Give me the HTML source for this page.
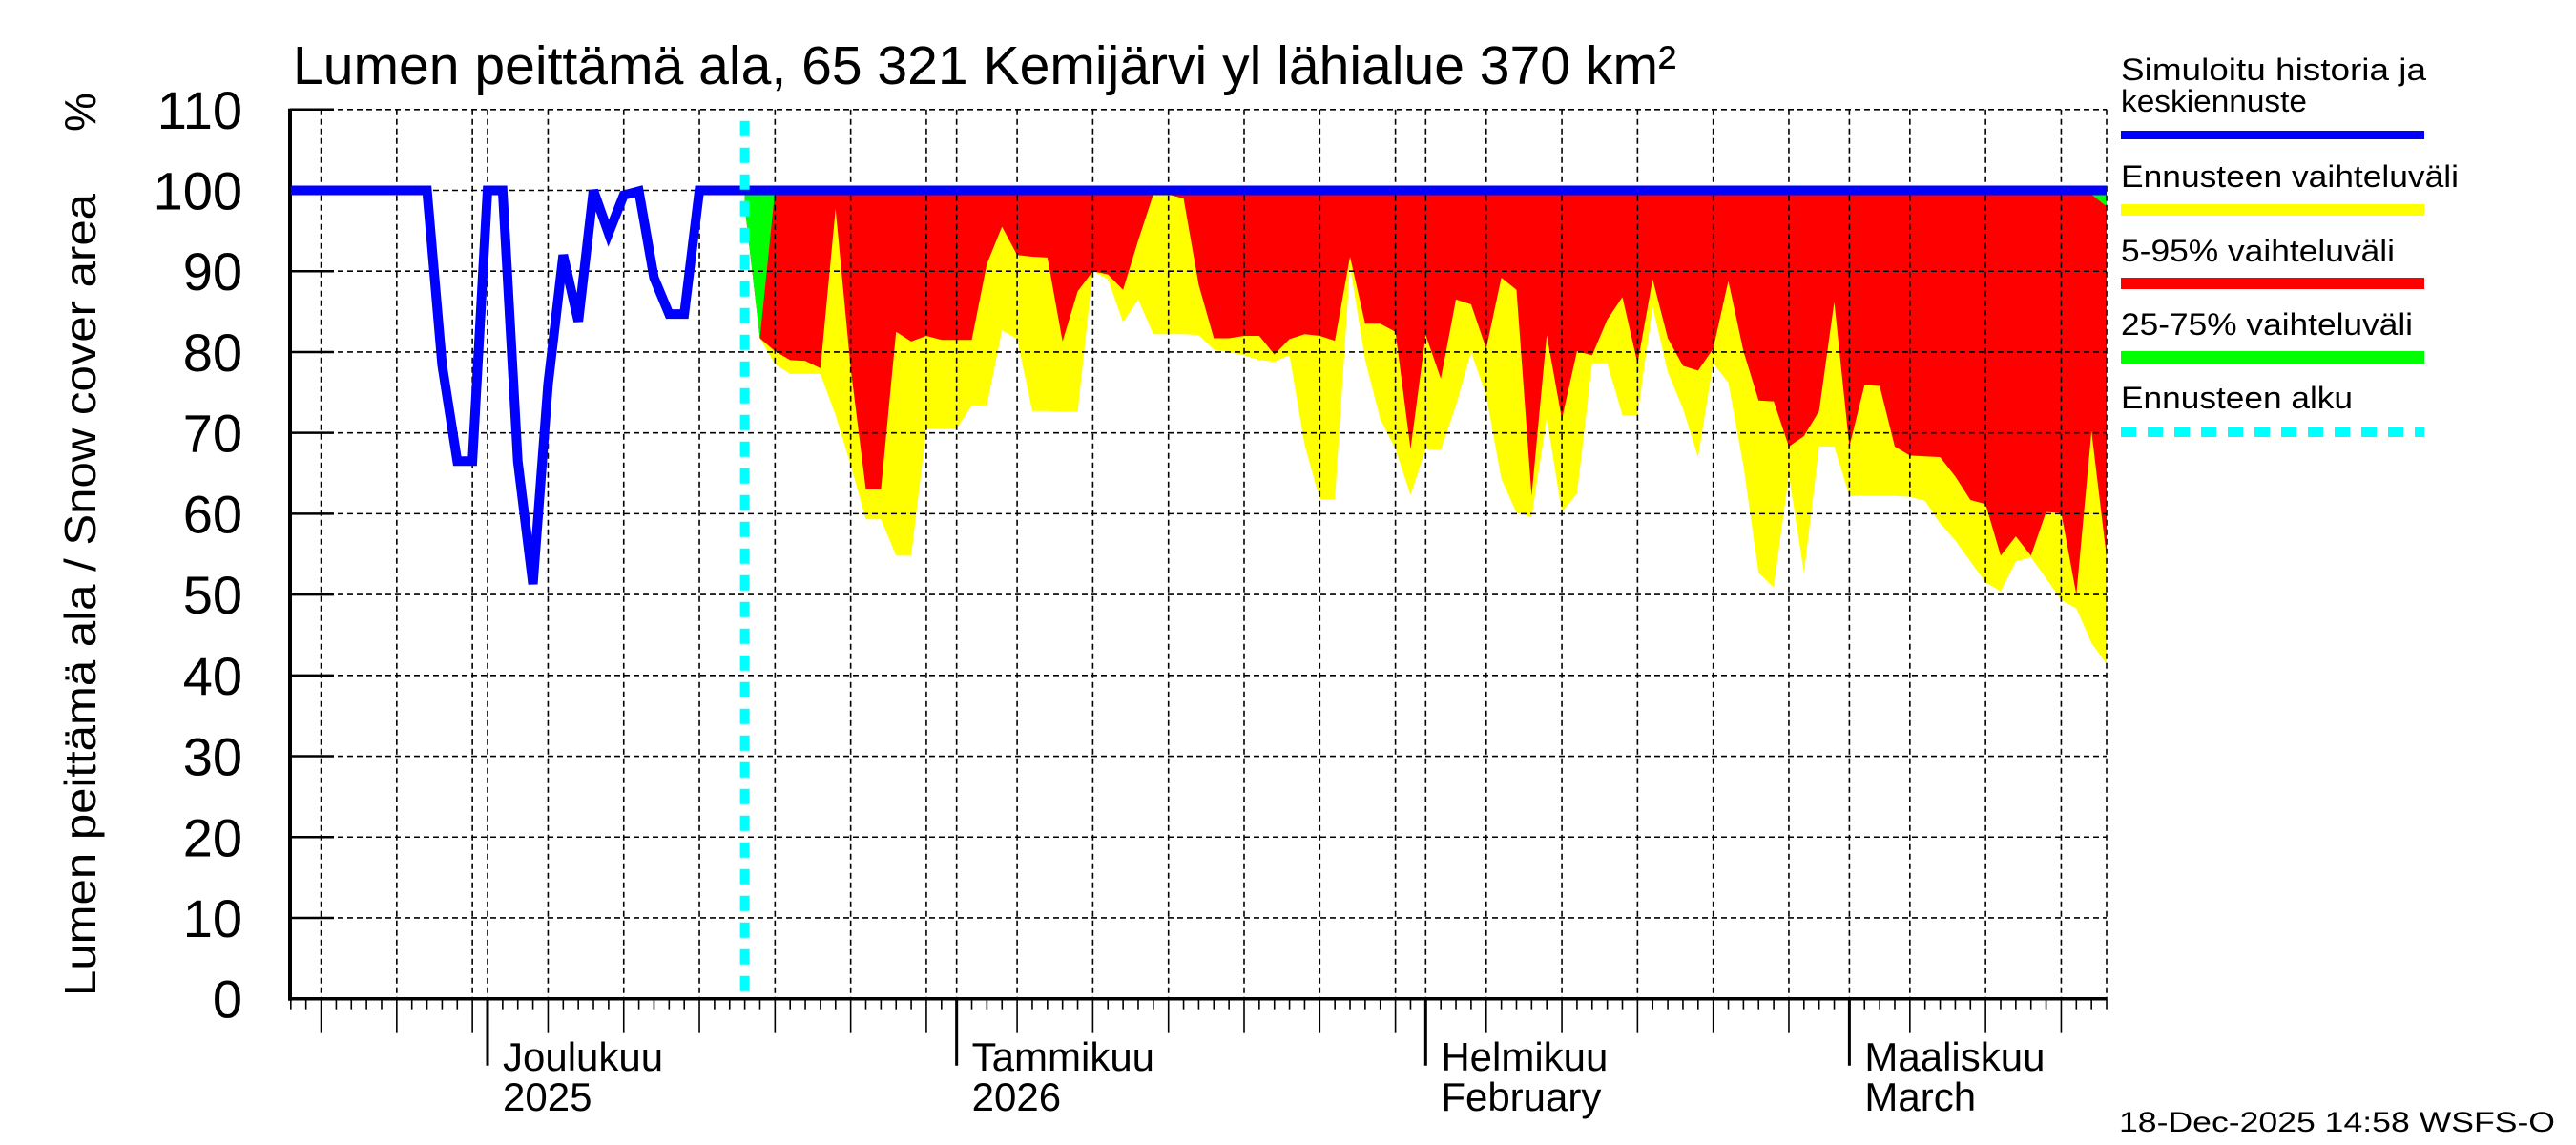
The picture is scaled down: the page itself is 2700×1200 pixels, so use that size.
<!DOCTYPE html>
<html><head><meta charset="utf-8"><style>
html,body{margin:0;padding:0;background:#fff;}
svg{display:block;font-family:"Liberation Sans",sans-serif;}
</style></head><body>
<svg id="chart" width="2700" height="1200" viewBox="0 0 2700 1200" xmlns="http://www.w3.org/2000/svg">
<g id="fills"></g>
<g id="grid"></g>
<g id="axes"></g>
<g id="series"></g>
<text x="307" y="88" font-size="57" textLength="1450" lengthAdjust="spacingAndGlyphs">Lumen peittämä ala, 65 321 Kemijärvi yl lähialue 370 km²</text>
<text transform="translate(100,1044) rotate(-90)" font-size="46" textLength="841" lengthAdjust="spacingAndGlyphs">Lumen peittämä ala / Snow cover area</text>
<text transform="translate(100,138) rotate(-90)" font-size="46">%</text>
<g>
<text x="2223" y="84" font-size="32" textLength="320" lengthAdjust="spacingAndGlyphs">Simuloitu historia ja</text>
<text x="2223" y="117" font-size="32" textLength="195" lengthAdjust="spacingAndGlyphs">keskiennuste</text>
<rect x="2223" y="137" width="318" height="9" fill="#0000ff"/>
<text x="2223" y="196" font-size="32" textLength="354" lengthAdjust="spacingAndGlyphs">Ennusteen vaihteluväli</text>
<rect x="2223" y="214" width="318" height="12" fill="#ffff00"/>
<text x="2223" y="274" font-size="32" textLength="287" lengthAdjust="spacingAndGlyphs">5-95% vaihteluväli</text>
<rect x="2223" y="291" width="318" height="12" fill="#ff0000"/>
<text x="2223" y="351" font-size="32" textLength="306" lengthAdjust="spacingAndGlyphs">25-75% vaihteluväli</text>
<rect x="2223" y="368" width="318" height="13" fill="#00ff00"/>
<text x="2223" y="428" font-size="32" textLength="243" lengthAdjust="spacingAndGlyphs">Ennusteen alku</text>
<line x1="2223" y1="453" x2="2541" y2="453" stroke="#00ffff" stroke-width="10" stroke-dasharray="16 12"/>
</g>
<text x="2221" y="1186" font-size="30" textLength="457" lengthAdjust="spacingAndGlyphs">18-Dec-2025 14:58 WSFS-O</text>
</svg>
<script>
const yTicks = [0,10,20,30,40,50,60,70,80,90,100,110];
const monthLabels = ["Joulukuu","Tammikuu","Helmikuu","Maaliskuu"];
const yearLabels = ["2025","2026","February","March"];
const monthDays = [0,31,62,90]; // days since Dec 1
const firstDay = -13; // Nov 18
const lastDay = 107;  // Mar 18
const forecastStart = 17; // Dec 18
const history = [100,100,100,100,100,100,100,100,100,100,78.4,66.5,66.5,100,100,66.5,51.3,76,92,83.8,100,94.7,99.4,99.9,89.2,84.7,84.7,100,100,100];
const median = Array(91).fill(100);
const bandTop = 100;
const yellowLow = [98,81.7,78.5,77.3,77.3,77.3,72.2,66,59.3,59.3,54.8,54.8,70.5,70.5,70.5,73.4,73.4,82.7,81.6,72.7,72.7,72.6,72.6,90,89,83.7,86.5,82.2,82.2,82.2,82.1,80.3,80,79.6,79,78.8,79.6,68.5,61.8,61.8,90.6,79,71.7,68,62.3,68,67.9,73.4,80,74.6,64.3,60.1,59.6,71.8,60.2,62.5,78.6,78.6,72.2,72.2,85.6,77.5,73,67,78.6,76.2,65.9,52.7,50.9,64.8,52.7,68.3,68.3,62.2,62.2,62.2,62.2,62.1,61.6,58.8,56.7,54.1,51.5,50.4,54.1,54.6,52,49.3,48.3,44,41.4];
const redLow = [98,81.7,80.1,79,78.9,78,97.7,78,63,63,82.5,81.3,82,81.5,81.5,81.5,90.9,95.5,92,91.8,91.7,81.3,87.5,90,89.6,87.7,93.8,99.5,99.5,99,88.3,81.7,81.7,82,82,79.7,81.6,82.2,82,81.4,91.8,83.5,83.5,82.5,68,82.1,76.7,86.5,85.9,80.4,89.2,87.7,62.2,82.1,71.7,80.1,79.6,84,86.8,78.6,89,81.7,78.3,77.7,80.4,88.8,80.1,74,73.9,68.3,69.6,72.7,86.2,68.3,75.9,75.8,68.3,67.2,67.1,67,64.6,61.7,61.2,54.8,57.2,54.8,60.2,60.1,50,70.2,54.6];
const greenLow = [98,81.7].concat(Array(87).fill(100)).concat([99.5,98]);

const NS="http://www.w3.org/2000/svg";
const X0=511, PXD=15.86, PL=304, PR=2208, PB=1046.7;
const xS=d=>X0+PXD*d;
const yS=v=>PB-8.472*v;
function mk(tag,attrs,parent){const e=document.createElementNS(NS,tag);for(const k in attrs)e.setAttribute(k,attrs[k]);parent.appendChild(e);return e;}
const fills=document.getElementById('fills'),grid=document.getElementById('grid'),axes=document.getElementById('axes'),series=document.getElementById('series');

function band(low,color,name){
  let pts=[];
  for(let i=0;i<low.length;i++)pts.push(xS(forecastStart+i)+','+yS(bandTop));
  for(let i=low.length-1;i>=0;i--)pts.push(xS(forecastStart+i)+','+yS(low[i]));
  const p=mk('polygon',{points:pts.join(' '),fill:color},fills);
  
  
}
band(yellowLow,'#ffff00','band-min-max');
band(redLow,'#ff0000','band-5-95');
band(greenLow,'#00ff00','band-25-75');

yTicks.forEach(v=>{
  const y=yS(v);
  if(v>0){const g=mk('line',{x1:PL,y1:y,x2:PR,y2:y,stroke:'#000','stroke-width':1.6,'stroke-dasharray':'6 4'},grid);
  
  }
  const t=mk('line',{x1:PL,y1:y,x2:PL+46,y2:y,stroke:'#000','stroke-width':2.5},axes);
  
  
  const l=mk('text',{x:254,y:y+20,'font-size':56,'text-anchor':'end'},axes);
  l.textContent=String(v);
  
  
});
const monthStartsAbs=[-30,0,31,62,90];
for(let d=firstDay;d<=lastDay;d++){
  const x=xS(d);
  let mi=0;for(let k=0;k<monthStartsAbs.length;k++)if(d>=monthStartsAbs[k])mi=k;
  const dom=d-monthStartsAbs[mi]+1;
  const isMonth=monthDays.includes(d);
  let len=11;
  if(isMonth){len=70;}
  else if(dom%5===0){len=36;
    const g=mk('line',{x1:x,y1:yS(110),x2:x,y2:PB,stroke:'#000','stroke-width':1.6,'stroke-dasharray':'6 4'},grid);
    
    }
  if(isMonth){
    const g=mk('line',{x1:x,y1:yS(110),x2:x,y2:PB,stroke:'#000','stroke-width':1.6,'stroke-dasharray':'6 4'},grid);
    
    }
  const t=mk('line',{x1:x,y1:PB,x2:x,y2:PB+len,stroke:'#000','stroke-width':isMonth?3:1.6},axes);
  
  
}
const rb=mk('line',{x1:PR,y1:yS(110),x2:PR,y2:PB,stroke:'#000','stroke-width':1.6,'stroke-dasharray':'6 4'},grid);


monthDays.forEach((d,i)=>{
  const a=mk('text',{x:xS(d)+16,y:1122,'font-size':42},axes);
  a.textContent=monthLabels[i];
  
  
  const b=mk('text',{x:xS(d)+16,y:1164,'font-size':42},axes);
  b.textContent=yearLabels[i];
  
  
});
const ya=mk('line',{x1:PL,y1:yS(110)-1,x2:PL,y2:PB+2,stroke:'#000','stroke-width':4},axes);


const xa=mk('line',{x1:PL-2,y1:PB,x2:PR,y2:PB,stroke:'#000','stroke-width':3.5},axes);



const all=history.concat(median);
const bp=all.map((v,i)=>xS(firstDay+i)+','+yS(v)).join(' ');
const bl=mk('polyline',{points:bp,fill:'none',stroke:'#0000ff','stroke-width':10,'stroke-linejoin':'miter'},series);


const fs=mk('line',{x1:xS(forecastStart),y1:yS(110)+12,x2:xS(forecastStart),y2:PB,stroke:'#00ffff','stroke-width':10,'stroke-dasharray':'16 12'},series);


</script>
</body></html>
